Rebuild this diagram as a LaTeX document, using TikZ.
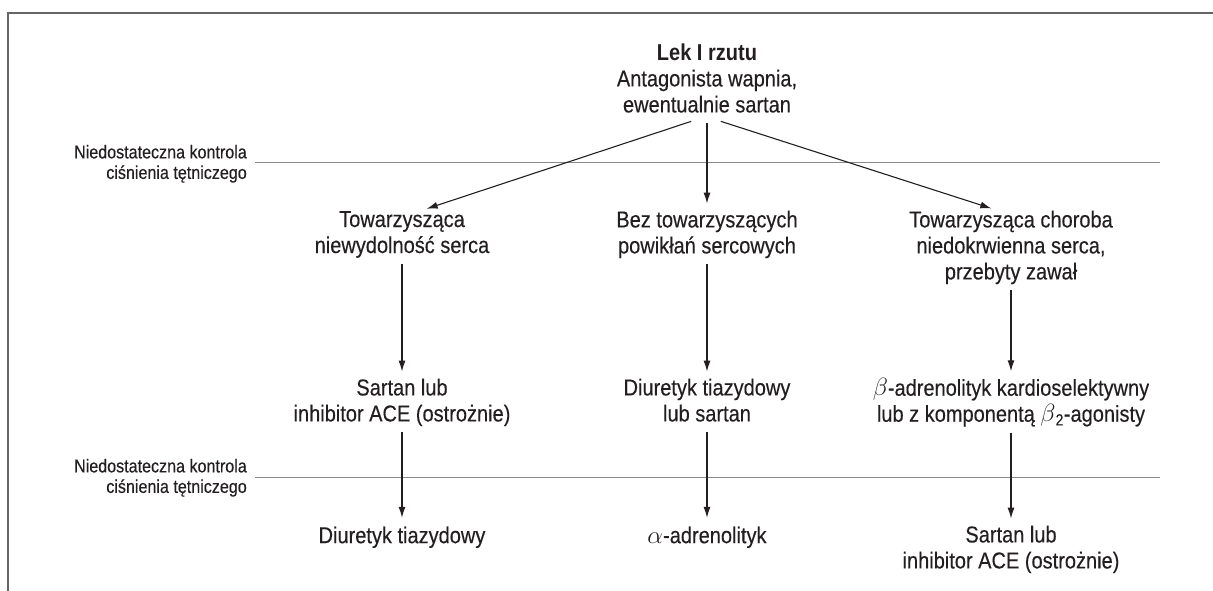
\documentclass[tikz,border=0pt]{standalone}
\usepackage{fontspec}
\setmainfont{Liberation Sans}[FakeStretch=0.87, UprightFeatures={FakeBold=0.3}]
\usetikzlibrary{arrows.meta}
\definecolor{ink}{HTML}{231F20}
\definecolor{rulegray}{HTML}{8A8A8A}
\definecolor{framegray}{HTML}{666666}
\begin{document}
\begin{tikzpicture}[x=1pt,y=-1pt,
  txt/.style={font=\fontsize{23}{26}\selectfont, text=ink, align=center, inner sep=0pt,
    execute at begin node=\strut, execute at end node=\strut},
  lbl/.style={font=\fontsize{18.5}{20.5}\selectfont, text=ink, align=right, inner sep=0pt, anchor=east,
    execute at begin node=\strut, execute at end node=\strut},
  arr/.style={draw=ink, line width=1.1pt, -{Latex[length=11pt,width=7pt]}, shorten <=3pt, shorten >=7pt},
  sepline/.style={draw=rulegray, line width=0.9pt},
  framel/.style={draw=framegray, line width=2pt}]
\useasboundingbox (0,0) rectangle (1213,591);
\draw[framel] (8,591) -- (8,13) -- (1213,13);

\node[txt] (top) at (707,82) {\textbf{Lek I rzutu}\\Antagonista wapnia,\\ewentualnie sartan};
\node[txt] (a2) at (402,236) {Towarzysząca\\niewydolność serca};
\node[txt] (b2) at (707,236) {Bez towarzyszących\\powikłań sercowych};
\node[txt] (c2) at (1011,249) {Towarzysząca choroba\\niedokrwienna serca,\\przebyty zawał};
\node[txt] (a3) at (402,404) {Sartan lub\\inhibitor ACE (ostrożnie)};
\node[txt] (b3) at (707,404) {Diuretyk tiazydowy\\lub sartan};
\node[txt] (c3) at (1011,404) {$\beta$-adrenolityk kardioselektywny\\lub z komponentą $\beta$\textsubscript{2}-agonisty};
\node[txt] (a4) at (402,538) {Diuretyk tiazydowy};
\node[txt] (b4) at (707,538) {$\alpha$-adrenolityk};
\node[txt] (c4) at (1011,551) {Sartan lub\\inhibitor ACE (ostrożnie)};

\node[lbl] (n1) at (247,165) {Niedostateczna kontrola\\ciśnienia tętniczego};
\node[lbl] (n2) at (247,479) {Niedostateczna kontrola\\ciśnienia tętniczego};

\coordinate (s1a) at (255,162);
\coordinate (s1b) at (1160,162);
\coordinate (s2a) at (255,477);
\coordinate (s2b) at (1160,477);
\draw[sepline] (s1a) -- (s1b);
\draw[sepline] (s2a) -- (s2b);

\draw[arr] ([xshift=-13pt]top.south) -- ([xshift=18pt]a2.north);
\draw[arr] (top.south) -- (b2.north);
\draw[arr] ([xshift=11pt]top.south) -- ([xshift=-13pt]c2.north);
\draw[arr] (a2.south) -- (a3.north);
\draw[arr] (b2.south) -- (b3.north);
\draw[arr] (c2.south) -- (c3.north);
\draw[arr] (a3.south) -- (a4.north);
\draw[arr] (b3.south) -- (b4.north);
\draw[arr] (c3.south) -- (c4.north);
\end{tikzpicture}
\end{document}
